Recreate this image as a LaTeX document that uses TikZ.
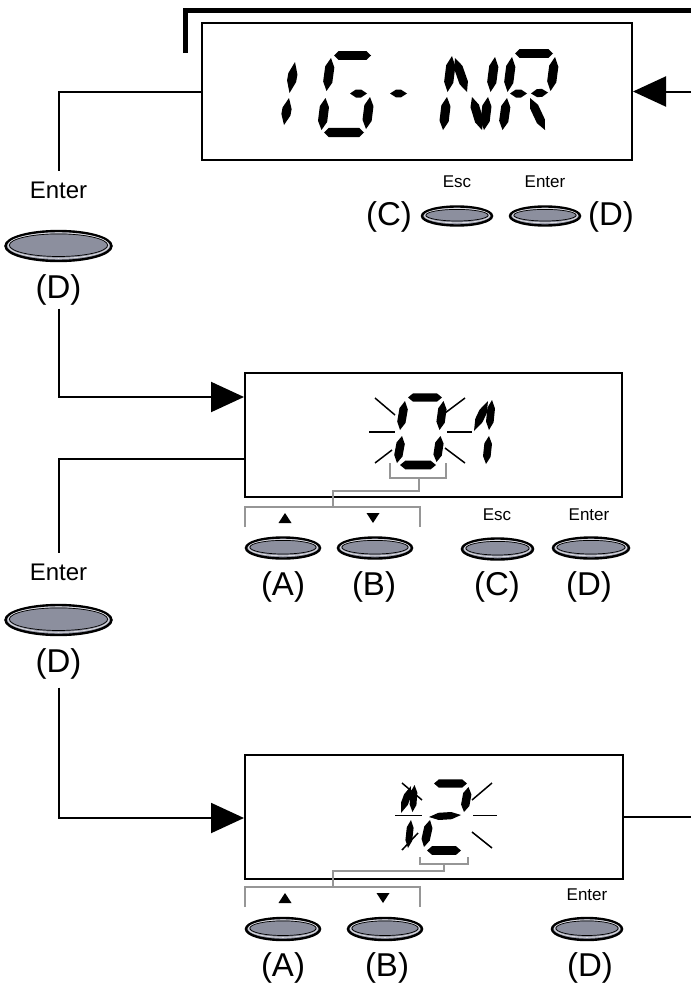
\documentclass[tikz,border=0pt]{standalone}
\usepackage{fontspec}
\setmainfont{Liberation Sans}
\usetikzlibrary{arrows.meta,calc,shapes.geometric}
\definecolor{btngray}{RGB}{140,143,158}
\definecolor{brkgray}{RGB}{150,150,150}
\newcommand\sg[6][0.27]{%
 \pgfmathsetmacro\sgdx{#4-(#2)}%
 \pgfmathsetmacro\sgdy{#5-(#3)}%
 \pgfmathsetmacro\sgL{veclen(\sgdx,\sgdy)}%
 \pgfmathsetmacro\sgux{\sgdx/\sgL}%
 \pgfmathsetmacro\sguy{\sgdy/\sgL}%
 \pgfmathsetmacro\sgt{#1*\sgL}%
 \pgfmathsetmacro\sgnx{-1*(\sguy)*#6}%
 \pgfmathsetmacro\sgny{(\sgux)*#6}%
 \pgfmathsetmacro\sgax{#2+\sgt*(\sgux)}%
 \pgfmathsetmacro\sgay{#3+\sgt*(\sguy)}%
 \pgfmathsetmacro\sgbx{#4-\sgt*(\sgux)}%
 \pgfmathsetmacro\sgby{#5-\sgt*(\sguy)}%
 \fill (#2,#3) -- ({\sgax+(\sgnx)},{\sgay+(\sgny)}) -- ({\sgbx+(\sgnx)},{\sgby+(\sgny)}) -- (#4,#5) -- ({\sgbx-(\sgnx)},{\sgby-(\sgny)}) -- ({\sgax-(\sgnx)},{\sgay-(\sgny)}) -- cycle;}
\newcommand\button[5]{%
 \node[ellipse,draw=black,line width=2.4pt,fill=btngray,minimum width=#4*2pt,minimum height=#5*2pt,inner sep=0pt] (#1) at (#2,#3) {};
 \draw[white!70!btngray,line width=0.9pt] (#1.center) ++(0,-0.4) ellipse [x radius=#4-2.5, y radius=#5-2.3];
 \draw[black,line width=0.7pt] (#1.center) ++(0,-0.8) ellipse [x radius=#4-3.9, y radius=#5-3.7];}
\begin{document}
\begin{tikzpicture}[x=1pt,y=-1pt,
 conn/.style={line width=2pt,line join=miter},
 arr/.style={-{Triangle[length=33pt,width=30pt]}},
 disp/.style={draw,line width=2pt,inner sep=0pt},
 brk/.style={draw=brkgray,line width=1.8pt},
 ray/.style={line width=1.5pt},
 tbig/.style={font=\fontsize{33}{38}\selectfont,inner sep=0pt},
 tmid/.style={font=\fontsize{24}{28}\selectfont,inner sep=0pt},
 tsmall/.style={font=\fontsize{17}{20}\selectfont,inner sep=0pt}]
\useasboundingbox (0,0) rectangle (691,985);

% displays
\node[disp,minimum width=430pt,minimum height=137pt] (d1) at (417,91.5) {};
\node[disp,minimum width=377pt,minimum height=124pt] (d2) at (433.5,435) {};
\node[disp,minimum width=378pt,minimum height=124pt] (d3) at (434,817) {};

% top thick return line
\coordinate (tA) at (185.5,53);
\coordinate (tB) at (691,10.5);
\draw[line width=5pt] (tA) |- (tB);
\coordinate (rIn) at (691,91.5);
\draw[conn,arr] (rIn) -- (d1.east);
\coordinate (rOut) at (691,817);
\draw[conn] (d3.east) -- (rOut);

% left column 1
\node[tmid] (e1) at (58.5,190) {Enter};
\button{b1}{58.5}{246}{53}{15}
\node[tbig] (l1) at (58.5,290) {(D)};
\draw[conn] (d1.west) -| ([yshift=10pt]e1.north);
\draw[conn,arr] ([yshift=-3pt]l1.south) |- ([yshift=38pt]d2.west);

% left column 2
\node[tmid] (e2) at (58.5,572) {Enter};
\button{b2}{58.5}{620}{53}{15}
\node[tbig] (l2) at (58.5,664) {(D)};
\draw[conn] ([yshift=-24pt]d2.west) -| ([yshift=10pt]e2.north);
\draw[conn,arr] ([yshift=-8pt]l2.south) |- ([yshift=-1pt]d3.west);

% top display buttons
\node[tsmall] (t1esc) at (457,182) {Esc};
\node[tsmall] (t1ent) at (545,182) {Enter};
\button{t1c}{457}{216}{35}{9.5}
\button{t1d}{545}{216}{35}{9.5}
\node[tbig] (t1lc) at (389,217) {(C)};
\node[tbig] (t1ld) at (611,217) {(D)};

% middle display buttons
\node[tsmall] (t2esc) at (497,515) {Esc};
\node[tsmall] (t2ent) at (589,515) {Enter};
\button{m2a}{283}{548}{37}{10.5}
\button{m2b}{375}{548}{37}{10.5}
\button{m2c}{497.5}{549}{35.5}{10.5}
\button{m2d}{591}{548}{38}{10.5}
\node[tbig] (m2la) at (283,587) {(A)};
\node[tbig] (m2lb) at (374,587) {(B)};
\node[tbig] (m2lc) at (497,587) {(C)};
\node[tbig] (m2ld) at (589,587) {(D)};
\fill (278.5,523) -- (291.5,523) -- (285,513) -- cycle;
\fill (366.5,513) -- (379.5,513) -- (373,523) -- cycle;

% bottom display buttons
\node[tsmall] (t3ent) at (587,895) {Enter};
\button{m3a}{283}{929}{37}{11}
\button{m3b}{385}{929}{37}{11}
\button{m3d}{587}{929}{35}{11}
\node[tbig] (m3la) at (283,968) {(A)};
\node[tbig] (m3lb) at (387,968) {(B)};
\node[tbig] (m3ld) at (590,968) {(D)};
\fill (278.5,903) -- (291.5,903) -- (285,893) -- cycle;
\fill (376.5,893) -- (389.5,893) -- (383,903) -- cycle;

% gray brackets
\draw[brk] (390,463) -- (390,478) -- (446,478) -- (446,463);
\draw[brk] (419,478) -- (419,491) -- (333,491) -- (333,507);
\draw[brk] (245,527) -- (245,507) -- (420,507) -- (420,527);
\draw[brk] (420,857) -- (420,864) -- (468,864) -- (468,857);
\draw[brk] (444,864) -- (444,871) -- (333,871) -- (333,887);
\draw[brk] (245,907) -- (245,887) -- (420,887) -- (420,907);

% ---- glyphs: 1G-NR
\sg[0.38]{295}{62}{289.5}{93}{4.6}
\sg[0.38]{289}{98}{284}{125}{4.6}
\sg[0.12]{334}{55.5}{371}{55.5}{4.4}
\sg{331}{58}{326.5}{91}{4.6}
\sg{325.5}{98}{321.5}{130}{4.6}
\sg[0.12]{324}{132.5}{364}{132.5}{4.6}
\sg[0.35]{350}{93.5}{367}{93.5}{4.0}
\sg{370}{97}{366}{129}{4.6}
\sg[0.35]{390}{93.5}{407}{93.5}{3.8}
\sg{452}{56}{447.5}{92}{4.6}
\sg{447}{97}{443}{130}{4.6}
\sg{455}{58}{467}{92}{4.4}
\sg{472}{97}{482}{130}{4.4}
\sg{495}{57}{490.5}{92}{4.6}
\sg{488}{97}{484}{130}{4.6}
\sg{512}{57}{507.5}{92}{4.6}
\sg[0.12]{515}{53.5}{553}{53.5}{4.4}
\sg{555}{57}{550.5}{91}{4.6}
\sg[0.35]{510}{93.5}{527}{93.5}{4.0}
\sg[0.35]{531}{93.5}{548}{92.5}{4.0}
\sg{507}{98}{502.5}{130}{4.6}
\sg{530}{98}{545}{130}{4.4}

% ---- glyphs: 01
\sg[0.15]{408}{397.5}{442}{397.5}{4.2}
\sg{405}{401}{400}{430}{4.2}
\sg{443.5}{401}{439.5}{430}{4.2}
\sg{402}{436}{397}{463}{4.2}
\sg{440.5}{436}{436.5}{462}{4.2}
\sg[0.15]{400}{465}{436}{465}{4.4}
\draw[ray] (375,398) -- (395,415);
\draw[ray] (369,432) -- (395,432);
\draw[ray] (375,463) -- (392,450);
\draw[ray] (445,413) -- (465,398);
\draw[ray] (447,432) -- (472,432);
\draw[ray] (445,448) -- (465,463);
\sg[0.35]{474}{431}{488}{401}{4}
\sg{492}{400}{489}{430}{3.8}
\sg{489}{436}{486}{464}{3.8}

% ---- glyphs: 12
\sg[0.35]{401}{813}{411}{786}{3.6}
\sg{414.5}{785}{412.5}{812}{3.4}
\sg{411}{820}{408}{848}{3.4}
\draw[ray] (402,783) -- (422,800);
\draw[ray] (395,815.5) -- (422,815.5);
\draw[ray] (402,850) -- (418,833);
\sg[0.15]{434}{783.5}{467}{783.5}{4.2}
\sg{468.5}{787}{464}{812}{4.2}
\sg[0.3]{429}{817}{461}{815}{3.6}
\sg{430}{820}{424}{847}{4.2}
\sg[0.15]{427}{850.5}{461}{850.5}{4.4}
\draw[ray] (472,800) -- (492,783);
\draw[ray] (473,815.5) -- (497,815.5);
\draw[ray] (472,832) -- (492,848);
\end{tikzpicture}
\end{document}
